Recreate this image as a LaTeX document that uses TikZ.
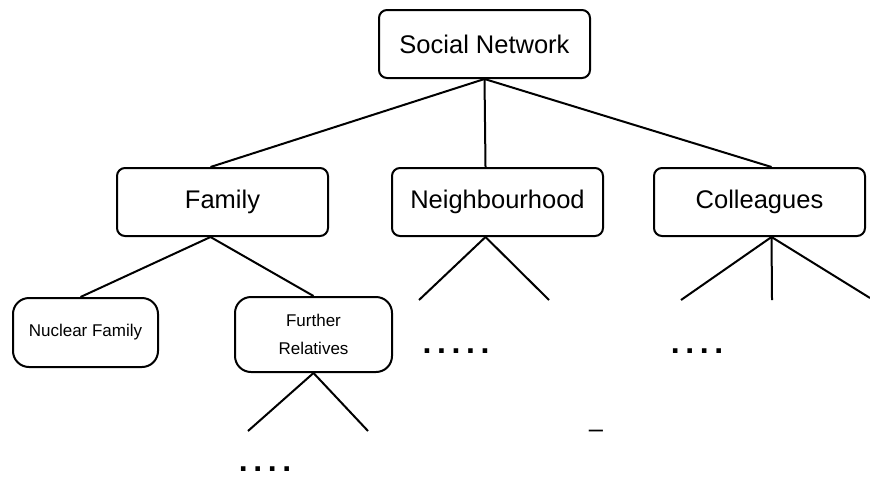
\documentclass[tikz,border=0pt]{standalone}
\usepackage{fontspec}
\setmainfont{Liberation Sans}
\newcommand\dgap{\hspace{2.8pt}}
\begin{document}
\begin{tikzpicture}[x=0.5pt,y=-0.5pt,line width=1pt,
  box/.style={draw,rounded corners=4pt,minimum width=105.5pt,minimum height=34pt,inner sep=0pt,font=\fontsize{12.75}{15}\selectfont},
  leaf/.style={draw,rounded corners=8pt,inner sep=0pt,align=center,font=\fontsize{8.5}{14}\selectfont},
  dots/.style={font=\bfseries\fontsize{16}{18}\selectfont}]
\useasboundingbox (0,0) rectangle (870,477);
% boxes
\node[box] (social) at (484.5,44) {Social Network};
\node[box] (family) at (222.5,202) {Family};
\node[box] (neigh) at (497.5,202) {Neighbourhood};
\node[box] (coll) at (759.5,202) {Colleagues};
\node[leaf,minimum width=72.5pt,minimum height=34.5pt] (nuclear) at (85.5,332.5) {Nuclear Family};
\node[leaf,minimum width=78.5pt,minimum height=37.5pt] (further) at (313.5,334.5) {Further\\Relatives};
% loose ends
\coordinate (n1) at (419,300);
\coordinate (n2) at (549,300);
\coordinate (c1) at (681,300);
\coordinate (c2) at (772,300);
\coordinate (c3) at (870,298);
\coordinate (f1) at (248,431);
\coordinate (f2) at (368,431);
% dots
\node[dots] (ndots) at (456,351) {.\dgap.\dgap.\dgap.\dgap.};
\node[dots] (cdots) at (697,351) {.\dgap.\dgap.\dgap.};
\node[dots] (fdots) at (265,469) {.\dgap.\dgap.\dgap.};
\node[font=\fontsize{12.75}{15}\selectfont] (dash) at (596,434) {–};
% links
\draw (social.south) -- ([xshift=-6pt]family.north);
\draw (social.south) -- ([xshift=-6pt]neigh.north);
\draw (social.south) -- ([xshift=6pt]coll.north);
\draw ([xshift=-6pt]family.south) -- ([xshift=-2.5pt]nuclear.north);
\draw ([xshift=-6pt]family.south) -- (further.north);
\foreach \e in {n1,n2} \draw ([xshift=-6pt]neigh.south) -- (\e);
\foreach \e in {c1,c2,c3} \draw ([xshift=6pt]coll.south) -- (\e);
\foreach \e in {f1,f2} \draw (further.south) -- (\e);
\end{tikzpicture}
\end{document}
